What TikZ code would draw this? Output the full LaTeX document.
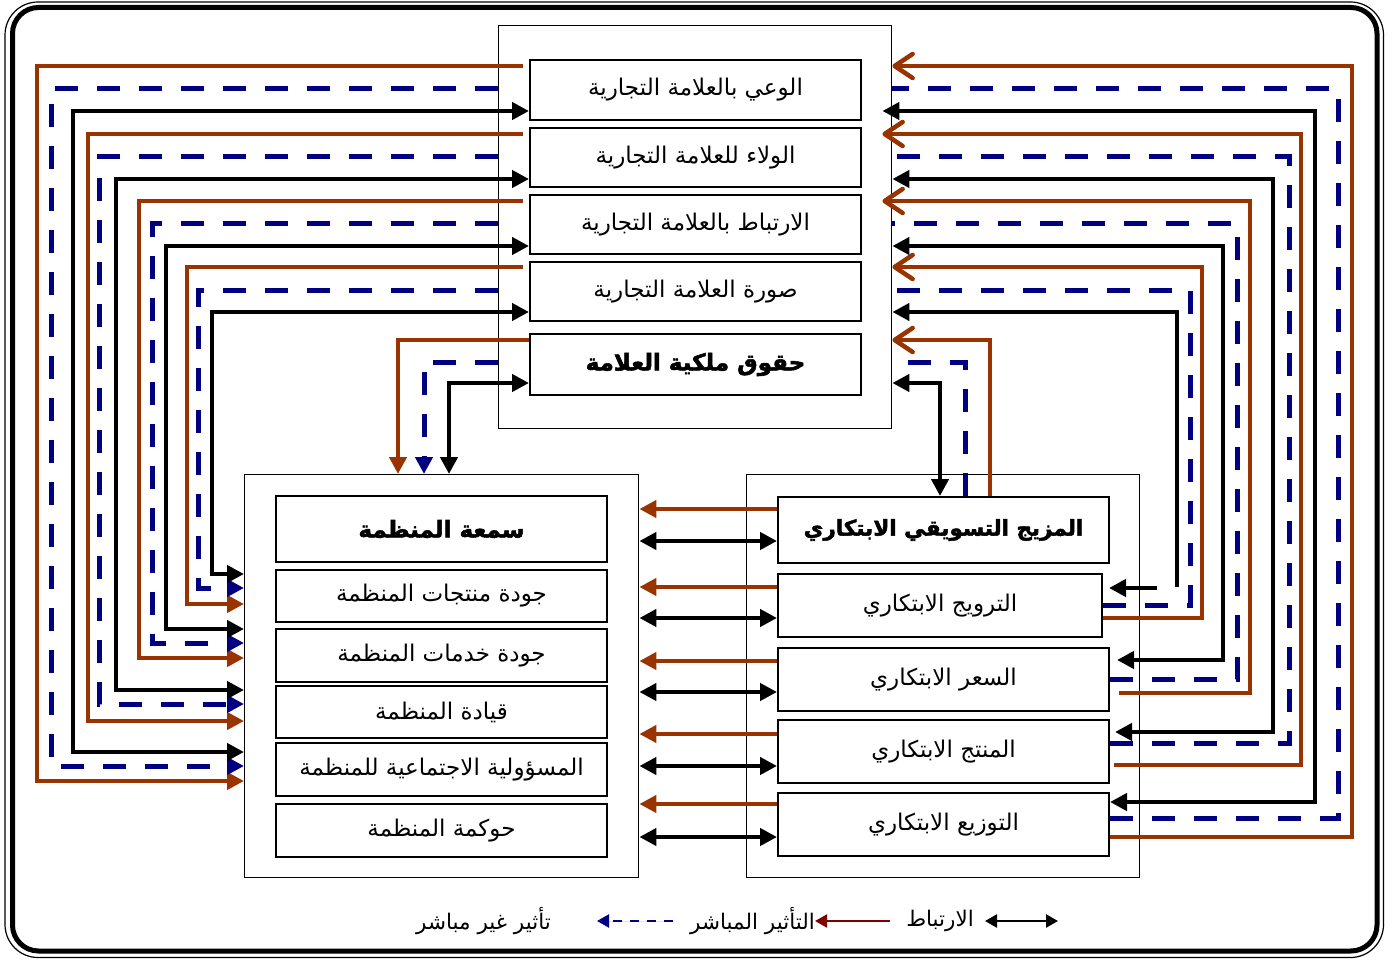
\documentclass[tikz,border=0pt]{standalone}
\usepackage{fontspec}
\usetikzlibrary{arrows.meta}
\TeXXeTstate=1
\newfontfamily\arfont[Script=Arabic]{DejaVu Sans}
\newfontfamily\arbfont[Script=Arabic,FakeBold=2.2]{DejaVu Sans Bold}
\definecolor{brn}{RGB}{153,51,0}
\definecolor{nav}{RGB}{0,0,128}
\definecolor{mar}{RGB}{128,0,0}
\tikzset{
  tri/.tip={Triangle[length=17pt,width=17pt]},
  barb/.tip={Straight Barb[length=18pt,width=24pt,round]},
  ltri/.tip={Triangle[length=12pt,width=13pt]},
  obox/.style={draw, line width=1.4pt, inner sep=0pt, anchor=north west},
  ibox/.style={draw, line width=2pt, inner sep=0pt, anchor=north west, minimum width=331pt, font=\arfont\fontsize{23}{27}\selectfont},
  hbox/.style={ibox, font=\arbfont\fontsize{23}{27}\selectfont},
  lgtxt/.style={inner sep=0pt, font=\arfont\fontsize{21.5}{25}\selectfont},
  blk/.style={line width=4.8pt, draw=black},
  brn/.style={line width=4.5pt, draw=brn},
  blu/.style={line width=5pt, draw=nav, dash pattern=on 23pt off 19pt},
}
\begin{document}
\begin{tikzpicture}[x=1pt,y=-1pt]
\useasboundingbox (0,0) rectangle (1392,960);
% outer frame
\draw[line width=5pt, rounded corners=26pt] (12.5,7.5) rectangle (1377,951);
\draw[line width=1.2pt, rounded corners=33pt] (5,2) rectangle (1383.5,957.5);

% group boxes
\node[obox, minimum width=393pt, minimum height=403pt] (brand) at (498,25) {};
\node[obox, minimum width=394pt, minimum height=403pt] (org) at (244,474) {};
\node[obox, minimum width=393pt, minimum height=403pt] (mix) at (746,474) {};

% brand boxes
\node[ibox, minimum height=60pt] (b1) at (529,59) {\beginR الوعي بالعلامة التجارية\endR};
\node[ibox, minimum height=59pt] (b2) at (529,127) {\beginR الولاء للعلامة التجارية\endR};
\node[ibox, minimum height=59pt] (b3) at (529,194) {\beginR الارتباط بالعلامة التجارية\endR};
\node[ibox, minimum height=59pt] (b4) at (529,261) {\beginR صورة العلامة التجارية\endR};
\node[hbox, minimum height=61pt] (b5) at (529,333) {\beginR حقوق ملكية العلامة\endR};

% organisation boxes
\node[hbox, minimum height=66pt] (o1) at (275,495) {\beginR سمعة المنظمة\endR};
\node[ibox, minimum height=52pt] (o2) at (275,569) {\beginR جودة منتجات المنظمة\endR};
\node[ibox, minimum height=53pt] (o3) at (275,628) {\beginR جودة خدمات المنظمة\endR};
\node[ibox, minimum height=52pt] (o4) at (275,685) {\beginR قيادة المنظمة\endR};
\node[ibox, minimum height=53pt] (o5) at (275,742) {\beginR المسؤولية الاجتماعية للمنظمة\endR};
\node[ibox, minimum height=53pt] (o6) at (275,803) {\beginR حوكمة المنظمة\endR};

% marketing mix boxes
\node[hbox, minimum height=66pt, font=\arbfont\fontsize{21.5}{26}\selectfont] (m1) at (777,496) {\beginR المزيج التسويقي الابتكاري\endR};
\node[ibox, minimum width=324pt, minimum height=63pt] (m2) at (777,573) {\beginR الترويج الابتكاري\endR};
\node[ibox, minimum height=63pt] (m3) at (777,647) {\beginR السعر الابتكاري\endR};
\node[ibox, minimum height=63pt] (m4) at (777,719) {\beginR المنتج الابتكاري\endR};
\node[ibox, minimum height=63pt] (m5) at (777,792) {\beginR التوزيع الابتكاري\endR};

% middle arrows
\foreach \y/\n in {509/m1,587/m2,661/m3,734/m4,804/m5}
  \draw[brn,-tri] (\n.west|-0,\y) -- (org.east|-0,\y);
\foreach \y/\n in {541/m1,618/m2,692/m3,766/m4,837/m5}
  \draw[blk,tri-tri] (org.east|-0,\y) -- (\n.west|-0,\y);

% left side: brand -> organisation
\draw[brn,-tri,shorten <=6pt] (b1.west|-0,66) -- (37,66) -- (37,781) -- (org.west|-0,781);
\draw[blu,-tri] (brand.west|-0,89) -- (51,89) -- (51,766) -- (org.west|-0,766);
\draw[blk,tri-tri] (org.west|-0,752) -- (73,752) -- (73,111) -- (b1.west|-0,111);

\draw[brn,-tri,shorten <=6pt] (b2.west|-0,134) -- (88,134) -- (88,721) -- (org.west|-0,721);
\draw[blu,-tri] (brand.west|-0,157) -- (99,157) -- (99,704) -- (org.west|-0,704);
\draw[blk,tri-tri] (org.west|-0,690) -- (116,690) -- (116,179) -- (b2.west|-0,179);

\draw[brn,-tri,shorten <=6pt] (b3.west|-0,201) -- (139,201) -- (139,658) -- (org.west|-0,658);
\draw[blu,-tri] (brand.west|-0,224) -- (152,224) -- (152,643) -- (org.west|-0,643);
\draw[blk,tri-tri] (org.west|-0,629) -- (166,629) -- (166,246) -- (b3.west|-0,246);

\draw[brn,-tri,shorten <=6pt] (b4.west|-0,267) -- (187,267) -- (187,604) -- (org.west|-0,604);
\draw[blu,-tri] (brand.west|-0,290) -- (198,290) -- (198,588) -- (org.west|-0,588);
\draw[blk,tri-tri] (org.west|-0,574) -- (212,574) -- (212,312) -- (b4.west|-0,312);

\draw[brn,-tri] (b5.west|-0,340) -- (398,340) -- (398,0|-org.north);
\draw[blu,-tri] (brand.west|-0,362) -- (424,362) -- (424,0|-org.north);
\draw[blk,tri-tri] (449,0|-org.north) -- (449,383) -- (b5.west|-0,383);

% right side: marketing mix -> brand
\draw[blk,tri-tri] (940,0|-m1.north) -- (940,383) -- (brand.east|-0,383);
\draw[blu] (965,0|-m1.north) -- (965,362) -- (brand.east|-0,362);
\draw[brn,-barb] (990,0|-m1.north) -- (990,340) -- (brand.east|-0,340);

\draw[brn,-barb] (m2.east|-0,618) -- (1202,618) -- (1202,267) -- (brand.east|-0,267);
\draw[blu] (m2.east|-0,605) -- (1190,605) -- (1190,290) -- (brand.east|-0,290);
\draw[blk,-tri] (1177,587) -- (1177,312) -- (brand.east|-0,312);
\coordinate (r4s) at (1157,588);
\draw[blk,-tri,shorten >=6pt] (r4s) -- (m2.east|-0,588);

\draw[brn,-barb,shorten <=9pt,shorten >=-10pt] (m3.east|-0,693) -- (1250,693) -- (1250,201) -- (brand.east|-0,201);
\draw[blu] (m3.east|-0,679) -- (1237,679) -- (1237,224) -- (brand.east|-0,224);
\draw[blk,tri-tri,shorten <=7pt] (m3.east|-0,660) -- (1223,660) -- (1223,246) -- (brand.east|-0,246);

\draw[brn,-barb,shorten <=4pt,shorten >=-10pt] (m4.east|-0,765) -- (1301,765) -- (1301,134) -- (brand.east|-0,134);
\draw[blu] (m4.east|-0,743) -- (1289,743) -- (1289,157) -- (brand.east|-0,157);
\draw[blk,tri-tri,shorten <=5pt] (m4.east|-0,732) -- (1273,732) -- (1273,179) -- (brand.east|-0,179);

\draw[brn,-barb] (m5.east|-0,837) -- (1352,837) -- (1352,66) -- (brand.east|-0,66);
\draw[blu] (m5.east|-0,818) -- (1338,818) -- (1338,89) -- (brand.east|-0,89);
\draw[blk,tri-tri,shorten >=-10pt] (m5.east|-0,802) -- (1315,802) -- (1315,111) -- (brand.east|-0,111);

% legend
\node[lgtxt, anchor=east] (l1) at (974,921) {\beginR الارتباط\endR};
\node[lgtxt, anchor=east] (l2) at (815,921) {\beginR التأثير المباشر\endR};
\node[lgtxt, anchor=east] (l3) at (551,921) {\beginR تأثير غير مباشر\endR};
\coordinate (k1a) at (985,921);
\coordinate (k1b) at (1058,921);
\draw[line width=2.5pt, ltri-ltri] (k1a) -- (k1b);
\coordinate (k2a) at (890,921);
\draw[line width=2pt, draw=mar, fill=mar, -ltri] (k2a) -- (l2.east);
\coordinate (k3a) at (673,921);
\coordinate (k3b) at (597,921);
\draw[line width=2.2pt, draw=nav, fill=nav, dash pattern=on 9pt off 8pt, -ltri] (k3a) -- (k3b);
\end{tikzpicture}
\end{document}
